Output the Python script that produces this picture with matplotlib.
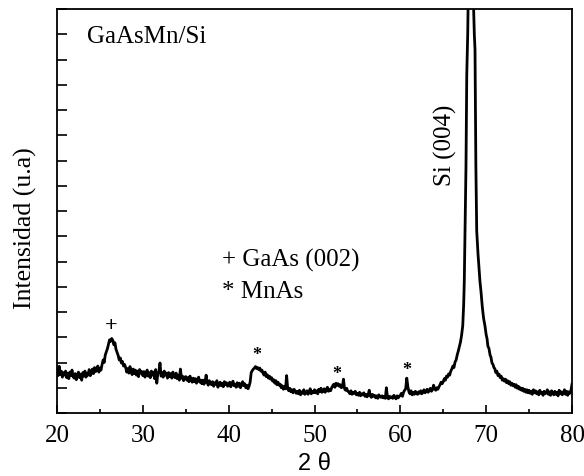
""" plot.py

XRD pattern of GaAsMn/Si, redrawn from the reference picture.
"""

import numpy as np
import matplotlib
matplotlib.use('Agg')
import matplotlib.pyplot as plt
from matplotlib.ticker import MultipleLocator, NullFormatter

# baseline scan, 20.000 .. 64.875 deg, 0.125 deg steps (one row = 1 deg)
scan_start, scan_step = 20.0, 0.125
counts_low = [
    1.72, 1.48, 1.85, 1.52, 1.66, 1.42, 1.60, 1.50,   # 20
    1.66, 1.40, 1.58, 1.36, 1.62, 1.48, 1.70, 1.44,   # 21
    1.38, 1.56, 1.32, 1.50, 1.62, 1.40, 1.54, 1.30,   # 22
    1.60, 1.46, 1.66, 1.42, 1.58, 1.50, 1.72, 1.48,   # 23
    1.58, 1.74, 1.56, 1.80, 1.64, 1.70, 1.86, 1.62,   # 24
    1.78, 1.70, 1.92, 2.10, 2.00, 2.30, 2.42, 2.55,   # 25
    2.72, 2.90, 2.84, 2.95, 2.88, 2.70, 2.78, 2.52,   # 26
    2.40, 2.28, 2.10, 2.18, 1.98, 2.04, 1.86, 1.92,   # 27
    1.80, 1.62, 1.76, 1.58, 1.84, 1.66, 1.52, 1.74,   # 28
    1.56, 1.70, 1.50, 1.66, 1.44, 1.72, 1.58, 1.64,   # 29
    1.48, 1.64, 1.42, 1.58, 1.70, 1.46, 1.60, 1.40,   # 30
    1.66, 1.50, 1.62, 1.36, 1.72, 1.18, 1.56, 1.64,   # 31
    1.98, 1.46, 1.60, 1.42, 1.66, 1.50, 1.58, 1.38,   # 32
    1.60, 1.44, 1.56, 1.38, 1.62, 1.48, 1.40, 1.58,   # 33
    1.36, 1.50, 1.30, 1.74, 1.38, 1.46, 1.28, 1.42,   # 34
    1.44, 1.30, 1.40, 1.24, 1.46, 1.34, 1.22, 1.38,   # 35
    1.24, 1.36, 1.18, 1.32, 1.42, 1.22, 1.30, 1.16,   # 36
    1.30, 1.14, 1.26, 1.50, 1.20, 1.10, 1.28, 1.18,   # 37
    1.12, 1.24, 1.06, 1.20, 1.14, 1.28, 1.02, 1.16,   # 38
    1.22, 1.08, 1.18, 1.04, 1.24, 1.12, 1.20, 1.06,   # 39
    1.10, 1.22, 1.04, 1.16, 1.26, 1.08, 1.14, 1.02,   # 40
    1.20, 1.06, 1.18, 1.00, 1.12, 1.24, 1.08, 1.16,   # 41
    1.00, 1.10, 0.96, 1.06, 1.22, 1.60, 1.68, 1.74,   # 42
    1.78, 1.84, 1.76, 1.80, 1.72, 1.78, 1.66, 1.70,   # 43
    1.58, 1.50, 1.62, 1.44, 1.52, 1.38, 1.46, 1.34,   # 44
    1.40, 1.26, 1.32, 1.18, 1.28, 1.12, 1.22, 1.10,   # 45
    1.14, 1.00, 1.08, 0.94, 1.04, 0.96, 1.48, 0.98,   # 46
    0.88, 0.98, 0.84, 0.92, 0.80, 0.94, 0.86, 0.78,   # 47
    0.86, 0.76, 0.90, 0.72, 0.84, 0.78, 0.92, 0.74,   # 48
    0.80, 0.88, 0.74, 0.84, 0.96, 0.76, 0.86, 0.80,   # 49
    0.92, 0.80, 0.88, 0.76, 0.94, 0.84, 0.98, 0.82,   # 50
    0.86, 0.96, 0.82, 0.92, 1.02, 0.86, 0.94, 0.88,   # 51
    1.00, 1.08, 1.14, 1.02, 1.18, 1.10, 1.16, 1.06,   # 52
    1.12, 1.00, 1.04, 1.34, 0.96, 0.90, 0.98, 0.86,   # 53
    0.84, 0.76, 0.88, 0.74, 0.82, 0.78, 0.86, 0.72,   # 54
    0.78, 0.70, 0.82, 0.68, 0.76, 0.72, 0.80, 0.66,   # 55
    0.74, 0.64, 0.72, 0.90, 0.68, 0.62, 0.74, 0.66,   # 56
    0.70, 0.60, 0.68, 0.58, 0.72, 0.64, 0.62, 0.68,   # 57
    0.60, 0.66, 0.58, 1.00, 0.62, 0.56, 0.66, 0.60,   # 58
    0.64, 0.58, 0.70, 0.62, 0.56, 0.68, 0.60, 0.66,   # 59
    0.70, 0.78, 0.66, 0.82, 0.90, 0.96, 1.38, 1.05,   # 60
    0.84, 0.76, 0.88, 0.72, 0.82, 0.74, 0.86, 0.78,   # 61
    0.74, 0.84, 0.78, 0.88, 0.76, 0.82, 0.92, 0.80,   # 62
    0.86, 0.94, 0.82, 0.90, 0.98, 0.86, 0.92, 1.10,   # 63
    0.96, 0.90, 1.00, 0.94, 1.04, 1.12, 1.22, 1.16,   # 64
]

# Si (004) region, read point by point
theta_si = [65.000, 65.125, 65.250, 65.375, 65.500, 65.625, 65.750, 65.875,
            66.000, 66.125, 66.250, 66.375, 66.500, 66.625, 66.750, 66.875,
            67.000, 67.125, 67.27, 67.38, 67.45, 67.54, 67.65, 67.74, 67.85,
            67.95, 68.05, 68.20, 68.35, 68.50, 68.62, 68.70, 68.80, 68.90,
            69.05, 69.28, 69.40, 69.55, 69.70, 69.86, 70.00, 70.10, 70.20,
            70.33, 70.45, 70.55, 70.68, 70.80, 70.90, 71.00, 71.125, 71.25,
            71.375, 71.50, 71.625, 71.75, 71.875]
counts_si = [1.24, 1.36, 1.30, 1.46, 1.42, 1.55, 1.50, 1.66,
             1.74, 1.86, 1.80, 2.02, 2.10, 2.30, 2.45, 2.62,
             2.80, 3.05, 3.45, 4.30, 5.20, 7.20, 9.80, 13.4, 15.0,
             17.5, 24.0, 30.0, 24.0, 16.5, 15.0, 14.4, 9.80, 7.20,
             6.30, 5.20, 4.80, 4.20, 3.75, 3.45, 3.10, 2.95, 2.65,
             2.55, 2.30, 2.22, 1.98, 1.92, 1.80, 1.76, 1.60, 1.66,
             1.48, 1.54, 1.40, 1.46, 1.30]

# tail, 72.000 .. 80.000 deg, 0.125 deg steps
tail_start = 72.0
counts_high = [
    1.36, 1.26, 1.34, 1.20, 1.28, 1.16, 1.24, 1.10,   # 72
    1.18, 1.08, 1.14, 1.02, 1.12, 0.98, 1.06, 0.94,   # 73
    1.00, 0.90, 0.98, 0.86, 0.94, 0.82, 0.92, 0.80,   # 74
    0.90, 0.78, 0.86, 0.74, 0.92, 0.80, 0.88, 0.76,   # 75
    0.84, 0.72, 0.90, 0.78, 0.82, 0.70, 0.86, 0.76,   # 76
    0.80, 0.92, 0.74, 0.84, 0.70, 0.88, 0.78, 0.72,   # 77
    0.86, 0.74, 0.82, 0.68, 0.90, 0.76, 0.84, 0.72,   # 78
    0.80, 0.92, 0.74, 0.86, 0.70, 0.84, 0.78, 0.88,   # 79
    1.14,                                             # 80
]

# peak markers
mark_theta = [26.3, 43.3, 52.6, 60.8]
mark_sym = ['+', '*', '*', '*']
mark_y = [3.50, 2.30, 1.55, 1.72]

theta = np.concatenate([scan_start + scan_step*np.arange(len(counts_low)),
                        theta_si,
                        tail_start + scan_step*np.arange(len(counts_high))])
counts = np.concatenate([counts_low, counts_si, counts_high])

plt.rcParams['font.family'] = ['Liberation Serif', 'DejaVu Serif']

fig = plt.figure(figsize=(5.84, 4.77), dpi=100)
ax = fig.add_axes([57/584, 1 - 414/477, (572-57)/584, (414-10)/477])

ax.plot(theta, counts, color='black', linewidth=2.0)

ax.set_xlim(20, 80)
ax.set_ylim(0, 16)

ax.xaxis.set_major_locator(MultipleLocator(10))
ax.xaxis.set_minor_locator(MultipleLocator(5))
ax.yaxis.set_major_locator(MultipleLocator(1))
ax.yaxis.set_major_formatter(NullFormatter())
ax.tick_params(axis='x', which='major', direction='in', length=6, width=1.2,
               labelsize=18, pad=8)
ax.tick_params(axis='x', which='minor', direction='in', length=3, width=1.2)
ax.tick_params(axis='y', which='major', direction='in', length=7, width=1.2)
for sp in ax.spines.values():
    sp.set_linewidth(1.3)

# axis titles placed where the reference has them
fig.text(25/584, 1 - 228/477, 'Intensidad (u.a)', fontsize=18.5,
         rotation=90, ha='center', va='center')
fig.text(314/584, 1 - 464/477, '2 θ', fontsize=17,
         family=['Liberation Sans', 'DejaVu Sans'], ha='center', va='center')

ax.text(23.5, 14.93, 'GaAsMn/Si', fontsize=18, va='center', ha='left')
ax.text(39.2, 6.1, '+ GaAs (002)', fontsize=18, va='center', ha='left')
ax.text(39.2, 4.83, '* MnAs', fontsize=18, va='center', ha='left')
ax.text(65.3, 10.65, 'Si (004)', fontsize=18, va='center', ha='center',
        rotation=90)

for t, s, y in zip(mark_theta, mark_sym, mark_y):
    size = 16 if s == '+' else 13
    ax.text(t, y, s, fontsize=size, ha='center', va='center',
            fontweight='bold')

fig.savefig('out.png', dpi=100)
